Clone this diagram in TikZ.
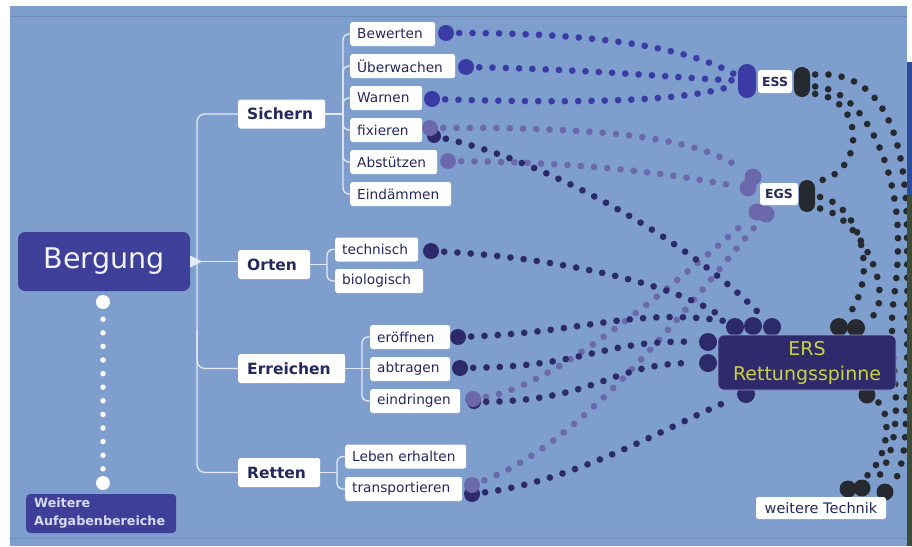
\documentclass[tikz,border=0pt]{standalone}
\usepackage{fontspec}
\setmainfont{DejaVu Sans}
\definecolor{bgblue}{HTML}{7E9FCD}
\definecolor{edgec}{HTML}{6F8AB4}
\definecolor{txt}{HTML}{25285C}
\definecolor{bergc}{HTML}{3D3F99}
\definecolor{bertext}{HTML}{F2F2FA}
\definecolor{weitc}{HTML}{D9DAF2}
\definecolor{essblue}{HTML}{3B3BA6}
\definecolor{navy}{HTML}{2D2A6C}
\definecolor{lilac}{HTML}{6B69AB}
\definecolor{blk}{HTML}{262930}
\definecolor{ersfill}{HTML}{2E2A6B}
\definecolor{ersborder}{HTML}{9A9CCB}
\definecolor{erstext}{HTML}{C9D23F}
\definecolor{treec}{HTML}{E3EAF3}
\definecolor{stripblue}{HTML}{2B4C9C}
\definecolor{stripgreen}{HTML}{3E4B36}
\pgfdeclarelayer{bglayer}
\pgfdeclarelayer{dotlayer}
\pgfsetlayers{bglayer,dotlayer,main}
\begin{document}
\begin{tikzpicture}[x=1pt,y=-1pt,
  box/.style={fill=white, rounded corners=2.5pt, text=txt, anchor=west, inner xsep=7pt, inner ysep=0pt,
    minimum height=24pt, align=left, font=\fontsize{13.7}{16}\selectfont},
  hbox/.style={box, minimum height=29pt, inner xsep=9pt, font=\bfseries\fontsize{15.5}{18}\selectfont},
  blob/.style={circle, fill=#1, inner sep=0pt, minimum size=16pt},
  pill/.style={fill=#1, rounded corners=7.9pt, inner sep=0pt, minimum width=16pt},
  dl/.style={draw=#1, line width=6.7pt, line cap=round, dash pattern=on 0pt off 13.3pt, shorten <=5pt, shorten >=5pt},
  wdot/.style={circle, fill=white, inner sep=0pt, minimum size=14pt},
  wdots/.style={draw=white, line width=5.5pt, line cap=round, dash pattern=on 0pt off 13.6pt, shorten <=10pt, shorten >=7pt},
  tree/.style={draw=treec, line width=1.3pt},
]
\useasboundingbox (0,0) rectangle (912,546);
\begin{pgfonlayer}{bglayer}
  \fill[white] (0,0) rectangle (912,546);
  \fill[bgblue] (10,6) rectangle (907,546);
  \draw[edgec, line width=0.8pt] (10,16) -- (907,16) (10,538) -- (907,538);
\end{pgfonlayer}

% ---------- blobs (drawn under boxes) ----------
\node[blob=essblue] (sBew) at (446,33) {};
\node[blob=essblue] (sUeb) at (466,67) {};
\node[blob=essblue] (sWar) at (432,99) {};
\node[blob=navy, minimum size=14pt] (sFixD) at (434,136) {};
\node[blob=lilac] (sFixL) at (430,128) {};
\node[blob=lilac] (sAbs) at (448,161) {};
\node[blob=navy] (sTec) at (431,251) {};
\node[blob=navy] (sEro) at (458,337) {};
\node[blob=navy] (sAbt) at (460,368) {};
\node[blob=navy, minimum size=14pt] (sEinD) at (474,402) {};
\node[blob=lilac] (sEin) at (473,399) {};
\node[blob=navy] (sTraD) at (472,494) {};
\node[blob=lilac] (sTraL) at (472,485) {};

\node[pill=essblue, minimum width=18pt, minimum height=34pt, rounded corners=8.9pt] (essP) at (747,81) {};
\node[blob=lilac, minimum size=17pt] (gA) at (753,177) {};
\node[blob=lilac, minimum size=17pt] (gB) at (748,188) {};
\node[blob=lilac, minimum size=17pt] (gC) at (757,212) {};
\node[blob=lilac, minimum size=17pt] (gD) at (766,214) {};

\node[blob=navy, minimum size=18pt] (rT1) at (735,327) {};
\node[blob=navy, minimum size=18pt] (rT2) at (753,326) {};
\node[blob=navy, minimum size=18pt] (rT3) at (772,327) {};
\node[blob=navy, minimum size=18pt] (rL1) at (708,342) {};
\node[blob=navy, minimum size=18pt] (rL2) at (708,363) {};
\node[blob=navy, minimum size=18pt] (rB) at (746,394) {};

\node[pill=blk, minimum height=30pt] (essK) at (802,82) {};
\node[pill=blk, minimum height=32pt] (egsK) at (807,196) {};
\node[blob=blk, minimum size=18pt] (rK1) at (839,327) {};
\node[blob=blk, minimum size=18pt] (rK2) at (856,328) {};
\node[blob=blk, minimum size=17pt] (rK3) at (867,395) {};
\node[blob=blk, minimum size=17pt] (tK1) at (848,489) {};
\node[blob=blk, minimum size=17pt] (tK2) at (862,488) {};
\node[blob=blk, minimum size=17pt] (tK3) at (885,492) {};

% ---------- left part ----------
\node[fill=bergc, rounded corners=7pt, minimum width=172pt, minimum height=59pt, inner sep=0pt,
  text=bertext, font=\fontsize{28.5}{32}\selectfont] (Bergung) at (104,261.5) {Bergung};
\node[fill=bergc, rounded corners=4pt, anchor=west, text width=134pt, inner xsep=8pt, inner ysep=0pt,
  minimum height=39pt, align=left, text=weitc, font=\bfseries\fontsize{12.7}{18}\selectfont]
  (Weitere) at (26,513.5) {Weitere\\Aufgabenbereiche};
\node[wdot] (w1) at (103,302) {};
\node[wdot] (w2) at (103,483) {};
\draw[wdots] (w1) -- (w2);

\node[hbox, text width=69pt] (Sichern) at (238,114) {Sichern};
\node[hbox, text width=54pt] (Orten) at (238,264.5) {Orten};
\node[hbox, text width=89pt] (Erreichen) at (238,368.5) {Erreichen};
\node[hbox, text width=64pt] (Retten) at (238,472.5) {Retten};

\node[box, text width=71pt] (Bew) at (350,34) {Bewerten};
\node[box, text width=91pt] (Ueb) at (350,66) {Überwachen};
\node[box, text width=58pt] (War) at (350,98) {Warnen};
\node[box, text width=58pt] (Fix) at (350,130) {fixieren};
\node[box, text width=73pt] (Abs) at (350,162) {Abstützen};
\node[box, text width=87pt] (Ein) at (350,194) {Eindämmen};
\node[box, text width=69pt] (Tec) at (335,249.5) {technisch};
\node[box, text width=74pt] (Bio) at (335,281) {biologisch};
\node[box, text width=66pt] (Ero) at (370,337) {eröffnen};
\node[box, text width=66pt] (Abt) at (370,369) {abtragen};
\node[box, text width=76pt] (Eid) at (370,401) {eindringen};
\node[box, text width=107pt] (Leb) at (345,456.5) {Leben erhalten};
\node[box, text width=103pt] (Tra) at (345,489) {transportieren};

% ---------- right boxes ----------
\node[box, anchor=center, inner xsep=4pt, minimum width=34pt, minimum height=23pt,
  font=\bfseries\fontsize{12.5}{14}\selectfont] (ESS) at (775,81.5) {ESS};
\node[box, anchor=center, inner xsep=4pt, minimum width=38pt, minimum height=22pt,
  font=\bfseries\fontsize{12.5}{14}\selectfont] (EGS) at (779,194) {EGS};
\node[fill=ersfill, draw=ersborder, line width=0.6pt, rounded corners=6pt, minimum width=178pt,
  minimum height=55pt, inner sep=0pt, align=center, text=erstext, font=\fontsize{19}{25}\selectfont]
  (ERS) at (807,362.5) {ERS\\Rettungsspinne};
\node[box, anchor=center, minimum width=130pt, minimum height=22pt, inner xsep=4pt,
  font=\fontsize{14.5}{16}\selectfont] (wT) at (821,508) {weitere Technik};

% ---------- tree lines ----------
\fill[treec] ([yshift=6pt]Bergung.east) -- ([yshift=-6pt]Bergung.east) -- ([xshift=12pt]Bergung.east) -- cycle;
\draw[tree] (Bergung.east) -- (Bergung.east -| Orten.west);
\draw[tree, rounded corners=8pt] (Sichern.west) -| (197,300) |- (Retten.west);
\draw[tree, rounded corners=8pt] (197,330) |- (Erreichen.west);

\draw[tree] (Sichern.east) -- (343,114);
\draw[tree, rounded corners=6pt] (Bew.west) -| (343,114) |- (Ein.west);
\draw[tree, rounded corners=6pt] (343,114) |- (Ueb.west);
\draw[tree, rounded corners=6pt] (343,114) |- (War.west);
\draw[tree, rounded corners=6pt] (343,114) |- (Fix.west);
\draw[tree, rounded corners=6pt] (343,114) |- (Abs.west);

\draw[tree] (Orten.east) -- (327,264.5);
\draw[tree, rounded corners=6pt] (Tec.west) -| (327,264.5) |- (Bio.west);

\draw[tree] (Erreichen.east) -- (Erreichen.east -| Abt.west);
\draw[tree, rounded corners=6pt] (Ero.west) -| (362,368.5) |- (Eid.west);

\draw[tree] (Retten.east) -- (337,472.5);
\draw[tree, rounded corners=6pt] (Leb.west) -| (337,472.5) |- (Tra.west);

% ---------- dotted connectors ----------
\begin{pgfonlayer}{dotlayer}
\draw[dl=essblue] (sBew) .. controls (610,33) and (690,50) .. (essP);
\draw[dl=essblue] (sUeb) .. controls (600,70) and (680,78) .. (essP);
\draw[dl=essblue] (sWar) .. controls (600,104) and (690,100) .. (essP);

\draw[dl=lilac] (sFixL) .. controls (620,127) and (700,140) .. (gA);
\draw[dl=lilac] (sAbs) .. controls (620,163) and (700,180) .. (gB);
\draw[dl=lilac] (sEin) .. controls (560,385) and (690,270) .. (gC);
\draw[dl=lilac] (sTraL) .. controls (590,440) and (700,290) .. (gD);

\draw[dl=navy] (sFixD) .. controls (560,165) and (700,250) .. (rT3);
\draw[dl=navy] (sTec) .. controls (560,258) and (680,285) .. (rT1);
\draw[dl=navy] (sEro) .. controls (590,332) and (640,305) .. (rT2);
\draw[dl=navy] (sAbt) .. controls (590,366) and (600,340) .. (rL1);
\draw[dl=navy] (sEinD) .. controls (600,400) and (610,363) .. (rL2);
\draw[dl=navy] (sTraD) .. controls (580,480) and (680,420) .. (rB);

\coordinate (k1a) at (907,230);
\coordinate (k1b) at (905,440);
\draw[dl=blk] (essK.41) .. controls (880,70) and (906,130) .. (k1a)
  .. controls (908,330) and (907,400) .. (k1b) .. controls (903,465) and (896,480) .. (tK3);
\coordinate (k2a) at (898,240);
\coordinate (k2b) at (892,330);
\coordinate (k2c) at (895,425);
\draw[dl=blk] (essK.-27) .. controls (865,90) and (898,170) .. (k2a)
  .. controls (898,290) and (891,300) .. (k2b) .. controls (893,370) and (898,395) .. (k2c)
  .. controls (893,455) and (880,478) .. (tK2);
\draw[dl=blk] (essK.-54) .. controls (865,100) and (865,170) .. (egsK.60);
\draw[dl=blk] (egsK.0) .. controls (860,205) and (880,275) .. (rK1);
\draw[dl=blk] (egsK.-55) .. controls (860,215) and (900,300) .. (rK2);
\draw[dl=blk] (rK3) .. controls (890,410) and (893,460) .. (tK1);
\end{pgfonlayer}

% ---------- photo strip at right edge ----------
\fill[stripblue] (907,62) rectangle (912,195);
\fill[stripgreen] (907,195) rectangle (912,546);
\end{tikzpicture}
\end{document}
